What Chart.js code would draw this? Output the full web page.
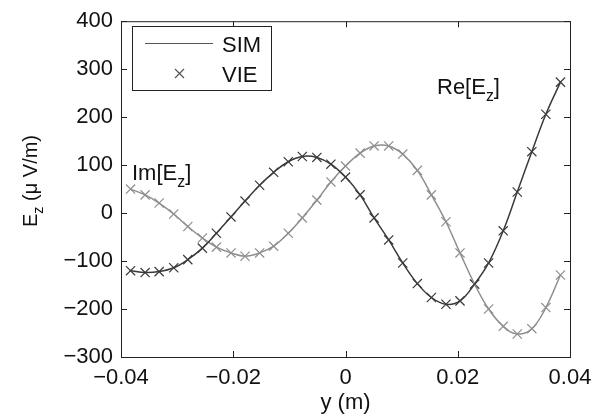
<!DOCTYPE html>
<html>
<head>
<meta charset="utf-8">
<script src="https://cdn.jsdelivr.net/npm/chart.js@4"></script>
<style>
  body { margin: 0; background: #fff; }
  canvas { display: block; }
</style>
</head>
<body>
<canvas id="ez" width="604" height="419"></canvas>
<script>
// sample positions (m) and field values (uV/m)
const yPos = [-0.0383, -0.0357, -0.0332, -0.0306, -0.0281, -0.0255, -0.0230, -0.0204, -0.0179, -0.0153,
  -0.0128, -0.0102, -0.0077, -0.0051, -0.0026, 0.0000, 0.0026, 0.0051, 0.0077, 0.0102,
  0.0128, 0.0153, 0.0179, 0.0204, 0.0230, 0.0255, 0.0281, 0.0306, 0.0332, 0.0357, 0.0383];
const reEz = [-120, -124, -122, -114, -97, -73, -42, -8, 25, 58,
  85, 107, 118, 116, 102, 75, 38, -10, -56, -104,
  -147, -176, -190, -183, -148, -104, -37, 44, 128, 206, 273];
const imEz = [50, 38, 21, -2, -28, -52, -71, -83, -90, -83,
  -69, -42, -10, 27, 65, 98, 125, 140, 140, 123,
  89, 38, -18, -83, -148, -200, -236, -252, -241, -197, -129];
const xTicks = [-0.04, -0.02, 0, 0.02, 0.04];
const yTicks = [-300, -200, -100, 0, 100, 200, 300, 400];

const FONT = "Liberation Sans, Arial, sans-serif";
const reCol = "#3a3a3a";
const imCol = "#8e8e8e";

const pts = (vals) => yPos.map((x, i) => ({ x: x, y: vals[i] }));
const fmt = (v) => {
  if (Math.abs(v) < 1e-9) return "0";
  let s = Number.isInteger(v) ? String(Math.abs(v)) : Math.abs(v).toFixed(2);
  return (v < 0 ? "\u2212" : "") + s;
};

// text with a subscript "z"
function subText(c, parts, x, y, size) {
  let cx = x;
  parts.forEach(p => {
    if (p.sub) {
      c.font = (size * 0.72) + "px " + FONT;
      c.fillText(p.t, cx, y + size * 0.3);
    } else {
      c.font = size + "px " + FONT;
      c.fillText(p.t, cx, y);
    }
    cx += c.measureText(p.t).width;
  });
  return cx - x;
}

const frame = {
  id: "frame",
  afterDraw(chart) {
    const c = chart.ctx;
    const a = chart.chartArea;
    const sx = chart.scales.x, sy = chart.scales.y;
    c.save();
    c.strokeStyle = "#222";
    c.lineWidth = 1;
    c.strokeRect(a.left + 0.5, a.top + 0.5, a.right - a.left, a.bottom - a.top);
    c.beginPath();
    xTicks.forEach(v => {
      const px = Math.round(sx.getPixelForValue(v)) + 0.5;
      c.moveTo(px, a.bottom); c.lineTo(px, a.bottom - 6);
      c.moveTo(px, a.top); c.lineTo(px, a.top + 6);
    });
    yTicks.forEach(v => {
      const py = Math.round(sy.getPixelForValue(v)) + 0.5;
      c.moveTo(a.left, py); c.lineTo(a.left + 6, py);
      c.moveTo(a.right, py); c.lineTo(a.right - 6, py);
    });
    c.stroke();

    c.fillStyle = "#111";
    c.textBaseline = "alphabetic";
    c.textAlign = "left";
    subText(c, [{ t: "Im[E" }, { t: "z", sub: true }, { t: "]" }], 132, 180, 22);
    subText(c, [{ t: "Re[E" }, { t: "z", sub: true }, { t: "]" }], 437, 94, 22);

    // axis titles
    c.font = "22px " + FONT;
    c.textAlign = "center";
    c.fillText("y (m)", (a.left + a.right) / 2, 409);
    c.save();
    c.translate(37, 181);
    c.rotate(-Math.PI / 2);
    c.textAlign = "left";
    const parts = [{ t: "E" }, { t: "z", sub: true }, { t: " (\u03bc V/m)" }];
    let w = 0;
    parts.forEach(p => { c.font = (p.sub ? 20 * 0.72 : 20) + "px " + FONT; w += c.measureText(p.t).width; });
    subText(c, parts, -w / 2, 0, 20);
    c.restore();

    // legend box
    c.fillStyle = "#fff";
    c.fillRect(132, 26, 139, 64);
    c.strokeStyle = "#222";
    c.strokeRect(132.5, 26.5, 139, 64);
    c.strokeStyle = "#555";
    c.lineWidth = 1.2;
    c.beginPath();
    c.moveTo(145, 43.5); c.lineTo(213, 43.5);
    c.moveTo(175, 69); c.lineTo(184, 78);
    c.moveTo(184, 69); c.lineTo(175, 78);
    c.stroke();
    c.fillStyle = "#111";
    c.textAlign = "left";
    c.font = "22px " + FONT;
    c.fillText("SIM", 222, 52);
    c.fillText("VIE", 222, 82);
    c.restore();
  }
};

new Chart(document.getElementById("ez"), {
  type: "scatter",
  data: {
    datasets: [
      { label: "Re SIM", data: pts(reEz), showLine: true, tension: 0.4, borderColor: reCol, borderWidth: 1.5, pointRadius: 0 },
      { label: "Im SIM", data: pts(imEz), showLine: true, tension: 0.4, borderColor: imCol, borderWidth: 1.5, pointRadius: 0 },
      { label: "Re VIE", data: pts(reEz), showLine: false, pointStyle: "crossRot", pointRadius: 6.5, borderColor: reCol, borderWidth: 1.2 },
      { label: "Im VIE", data: pts(imEz), showLine: false, pointStyle: "crossRot", pointRadius: 6.5, borderColor: imCol, borderWidth: 1.2 }
    ]
  },
  options: {
    responsive: false,
    animation: false,
    devicePixelRatio: 1,
    layout: { padding: { left: 0, right: 34, top: 17, bottom: 0 } },
    plugins: { legend: { display: false }, tooltip: { enabled: false } },
    scales: {
      x: {
        type: "linear", min: -0.04, max: 0.04,
        grid: { display: false, drawTicks: false }, border: { display: false },
        ticks: { stepSize: 0.02, maxRotation: 0, padding: 8, color: "#111", font: { family: FONT, size: 22 }, callback: (v) => fmt(v) },
        afterFit: (s) => { s.height = 62; }
      },
      y: {
        min: -300, max: 400,
        grid: { display: false, drawTicks: false }, border: { display: false },
        ticks: { stepSize: 100, padding: 8, color: "#111", font: { family: FONT, size: 22 }, callback: (v) => fmt(v) },
        afterFit: (s) => { s.width = 121; }
      }
    }
  },
  plugins: [frame]
});
</script>
</body>
</html>
